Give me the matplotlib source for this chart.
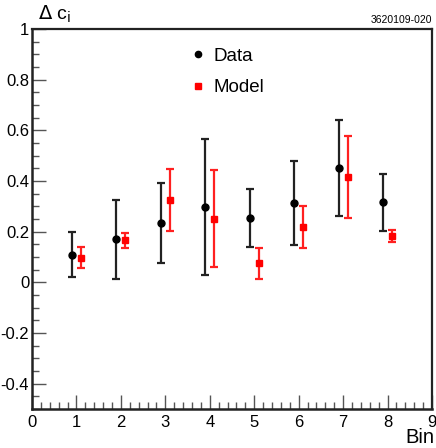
import matplotlib
matplotlib.use("Agg")
import matplotlib.pyplot as plt
from matplotlib.ticker import MultipleLocator
from matplotlib.lines import Line2D
import numpy as np

plt.rcParams['font.family'] = ['Liberation Sans', 'DejaVu Sans']

bins = [1, 2, 3, 4, 5, 6, 7, 8]
data_val = [0.109, 0.170, 0.234, 0.299, 0.253, 0.314, 0.452, 0.316]
data_hi = [0.199, 0.326, 0.393, 0.566, 0.367, 0.479, 0.641, 0.429]
data_lo = [0.020, 0.012, 0.077, 0.030, 0.139, 0.147, 0.262, 0.204]
model_val = [0.097, 0.166, 0.326, 0.251, 0.075, 0.220, 0.416, 0.183]
model_hi = [0.138, 0.196, 0.449, 0.443, 0.137, 0.302, 0.576, 0.208]
model_lo = [0.058, 0.137, 0.204, 0.059, 0.013, 0.135, 0.255, 0.158]

fig = plt.figure(figsize=(4.36, 4.48), dpi=100)
ax = fig.add_axes([32/436, 1-409/448, 400/436, 380/448])

x = np.array(bins, dtype=float)
dv = np.array(data_val); mv = np.array(model_val)
derr = [dv - np.array(data_lo), np.array(data_hi) - dv]
merr = [mv - np.array(model_lo), np.array(model_hi) - mv]

ax.errorbar(x - 0.1, dv, yerr=derr, fmt='o', color='black', ecolor='#222222',
            ms=5, elinewidth=1.6, capsize=3, capthick=1.6)
ax.errorbar(x + 0.1, mv, yerr=merr, fmt='s', color='#ff0000', ecolor='#ff2020',
            ms=5, elinewidth=1.6, capsize=3, capthick=1.6)

ax.set_xlim(0, 9)
ax.set_ylim(-0.5, 1.0)
ax.xaxis.set_major_locator(MultipleLocator(1))
ax.xaxis.set_minor_locator(MultipleLocator(0.2))
ax.yaxis.set_major_locator(MultipleLocator(0.2))
ax.yaxis.set_minor_locator(MultipleLocator(0.05))
ax.set_yticks(np.arange(-0.4, 1.01, 0.2))
ax.set_yticklabels(['-0.4', '-0.2', '0', '0.2', '0.4', '0.6', '0.8', '1'])

ax.tick_params(which='both', direction='in', top=False, right=False,
               labelsize=12, color='#555555')
ax.tick_params(which='major', length=10, width=1)
ax.tick_params(which='minor', length=5, width=1)
ax.tick_params(axis='x', pad=4)
ax.tick_params(axis='y', pad=2)

for s in ['left', 'bottom']:
    ax.spines[s].set_linewidth(1.8)
    ax.spines[s].set_color('#222222')
for s in ['top', 'right']:
    ax.spines[s].set_linewidth(1.6)
    ax.spines[s].set_color('#222222')

fig.text(38/436, 1-14/448, r'$\Delta$ c$_{\rm i}$', fontsize=14, va='center', ha='left')
fig.text(432/436, 1-20/448, '3620109-020', fontsize=7.5, va='center', ha='right')
fig.text(434/436, 1-447/448, 'Bin', fontsize=14.5, va='bottom', ha='right')

handles = [Line2D([], [], ls='none', marker='o', color='black', ms=4.5),
           Line2D([], [], ls='none', marker='s', color='#ff0000', ms=4.5)]
ax.legend(handles, ['Data', 'Model'], loc='upper left',
          bbox_to_anchor=(0.345, 0.995), frameon=False,
          fontsize=13.5, handletextpad=0.2, labelspacing=0.75,
          handlelength=1.2)

fig.savefig('out.png', dpi=100)
